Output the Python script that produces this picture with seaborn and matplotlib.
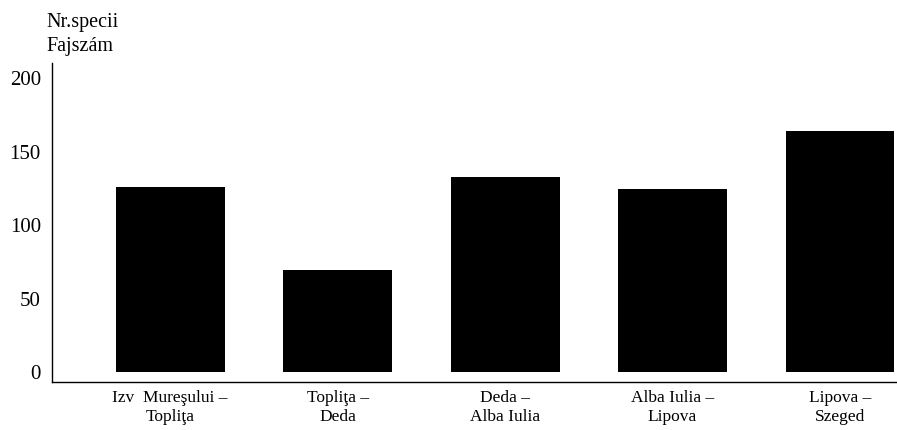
import matplotlib
matplotlib.use("Agg")
import matplotlib.pyplot as plt
import seaborn as sns
import pandas as pd

categories = ["Izv  Mureşului –\nTopliţa", "Topliţa –\nDeda", "Deda –\nAlba Iulia",
              "Alba Iulia –\nLipova", "Lipova –\nSzeged"]
species = [126, 70, 133, 125, 164]
yticks = [0, 50, 100, 150, 200]

sns.set_theme(style="white")
plt.rcParams["font.family"] = ["Liberation Serif", "DejaVu Serif"]
plt.rcParams["text.color"] = "black"
plt.rcParams["xtick.color"] = "black"
plt.rcParams["ytick.color"] = "black"

df = pd.DataFrame({"segment": categories, "species": species})

fig = plt.figure(figsize=(8.97, 4.30), dpi=100)
ax = fig.add_axes([52 / 897, (430 - 382) / 430, 1 - 52 / 897, (382 - 63) / 430])

sns.barplot(data=df, x="segment", y="species", color="black", saturation=1,
            width=0.65, ax=ax, edgecolor="black", linewidth=0)

ax.set_xlim(-0.705, 4.34)
ax.set_ylim(-6.5, 210.5)
ax.set_yticks(yticks)
ax.set_yticklabels([str(v) for v in yticks], fontsize=15)
ax.tick_params(axis="y", length=0, pad=8, labelcolor="black")
ax.tick_params(axis="x", length=0, pad=6, labelsize=12.5, labelcolor="black")
for lbl in ax.get_xticklabels():
    lbl.set_linespacing(1.2)
ax.set_xlabel("")
ax.set_ylabel("")
for s in ["top", "right"]:
    ax.spines[s].set_visible(False)
for s in ["left", "bottom"]:
    ax.spines[s].set_color("black")
    ax.spines[s].set_linewidth(1.0)

fig.text(46 / 897, 1 - 22 / 430, "Nr.specii", fontsize=14.5, va="center", ha="left", color="black")
fig.text(46 / 897, 1 - 47 / 430, "Fajszám", fontsize=14.5, va="center", ha="left", color="black")

fig.savefig("out.png", dpi=100)
